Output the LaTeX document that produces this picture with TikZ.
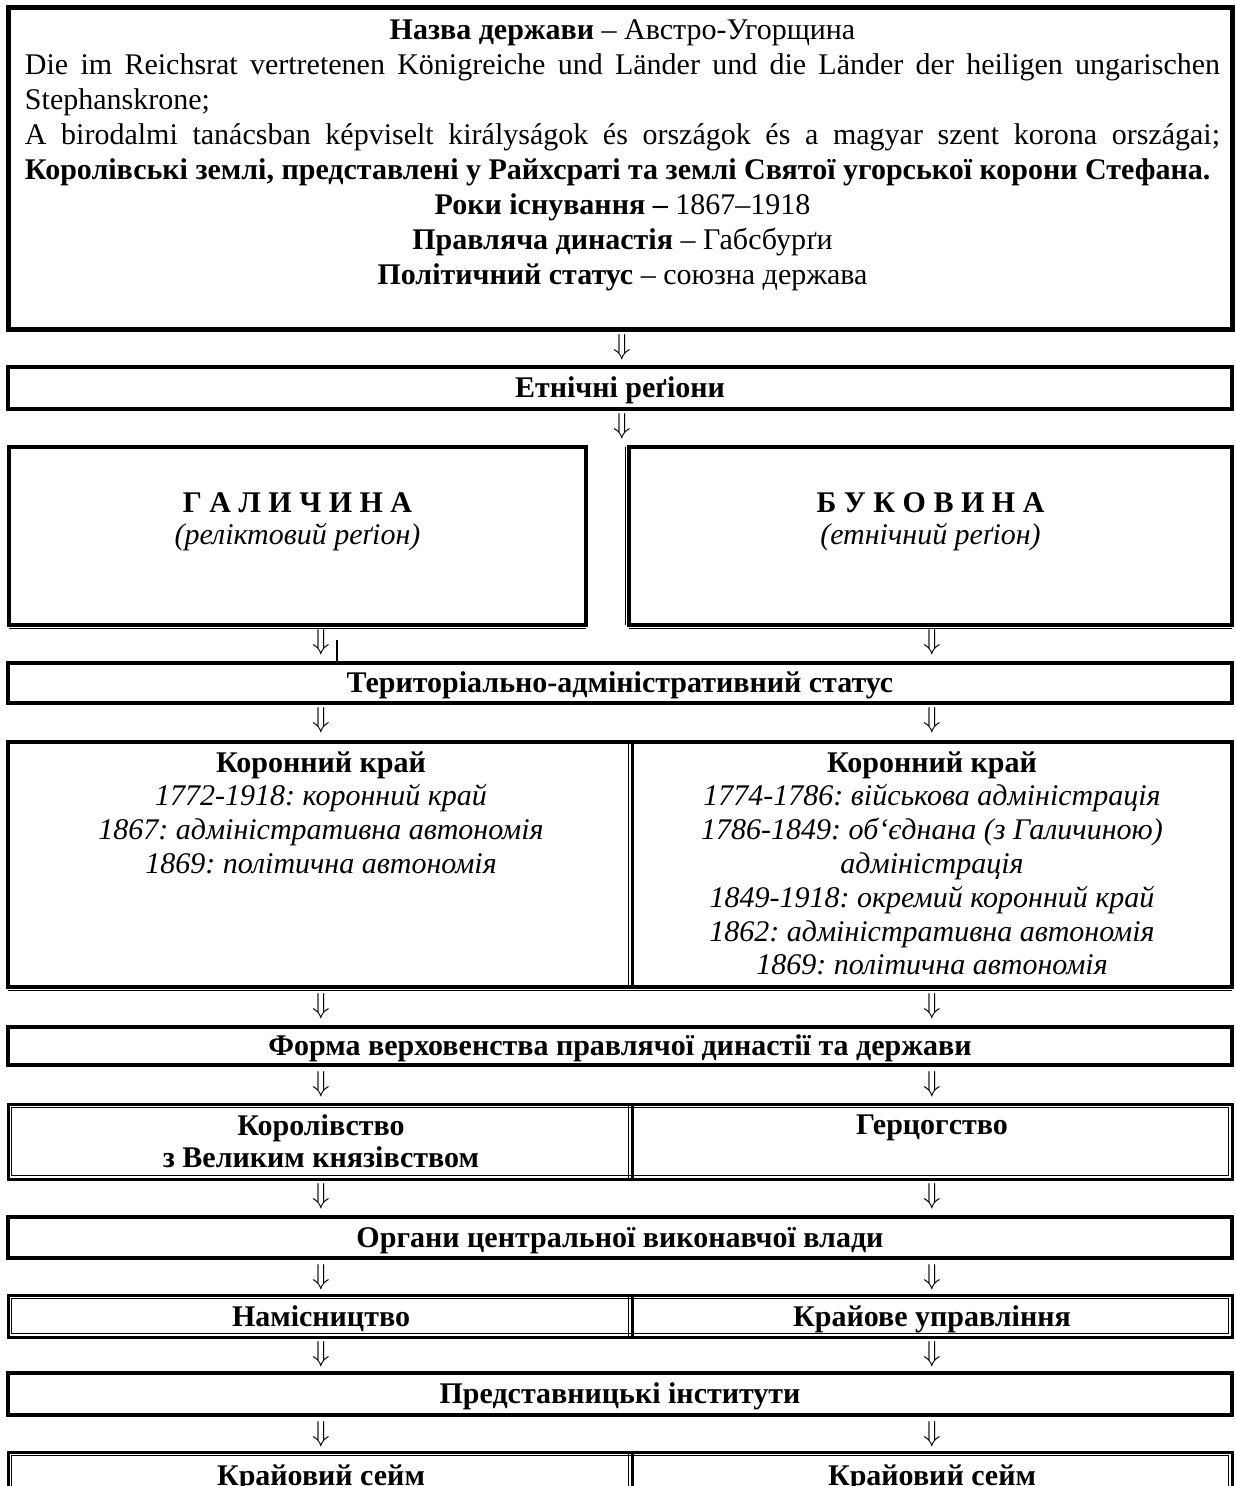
\documentclass[tikz,border=0pt]{standalone}
\usepackage{fontspec}
\setmainfont{Liberation Serif}

\begin{document}
\begin{tikzpicture}[x=0.5pt,y=-0.5pt,
        rowbox/.style={draw,line width=2pt,inner sep=0pt,outer sep=0pt,text height=9.9pt,text depth=0pt},
        dblbox/.style={draw,line width=1.5pt,inner sep=0pt,outer sep=0pt},
        thinrule/.style={line width=0.6pt},
        thickrule/.style={line width=1.5pt},
        headtxt/.style={font=\bfseries,inner sep=0pt,text height=9.9pt,text depth=0pt},
        celltxt/.style={align=center,inner sep=0pt,anchor=north,font=\fontsize{15}{16.9}\selectfont},
        darr/.style={inner sep=0pt,font=\fontsize{14}{14}\selectfont}]
    \fontsize{15}{17.5}\selectfont\frenchspacing
    \useasboundingbox (0,0) rectangle (1235,1486);
    \clip (0,0) rectangle (1235,1486);

    \node[rowbox,line width=2.5pt,minimum width=612pt,minimum height=161pt] (state) at (620,169) {};
    \node[anchor=north,text width=597.5pt,align=justify,inner sep=0pt] (statetxt) at (622.5,19) {%
        {\centering\textbf{Назва держави} – Австро-Угорщина\par}
        Die im Reichsrat vertretenen Königreiche und Länder und die Länder der heiligen ungarischen\linebreak Stephanskrone;\par
        A birodalmi tanácsban képviselt királyságok és országok és a magyar szent korona országai;\linebreak \textbf{Королівські землі, представлені у Райхсраті та землі Святої угорської корони Стефана.}\par
        {\centering\textbf{Роки існування –} 1867–1918\par
        \textbf{Правляча династія} – Габсбурґи\par
        \textbf{Політичний статус} – союзна держава\par}};

    \node[darr] (a1) at (622,347) {$\Downarrow$};
    \node[rowbox,minimum width=612pt,minimum height=21pt] (ethnic) at (620,388) {\textbf{Етнічні реґіони}};
    \node[darr] (a2) at (622,426) {$\Downarrow$};

    \node[rowbox,minimum width=288.5pt,minimum height=89pt] (gal) at (297.5,536) {};
    \node[rowbox,minimum width=301.5pt,minimum height=89pt] (buk) at (930.5,536) {};
    \draw[thinrule] ([yshift=-1.75pt]gal.south west) -- ([yshift=-1.75pt]gal.south east);
    \draw[thinrule] ([yshift=-1.75pt]buk.south west) -- ([yshift=-1.75pt]buk.south east);
    \draw[thinrule] ([xshift=-1.75pt]buk.north west) -- ([xshift=-1.75pt]buk.south west);
    \node[headtxt] (galname) at (297.5,503) {Г А Л И Ч И Н А};
    \node[inner sep=0pt,font=\itshape] (galnote) at (297.5,537) {(реліктовий реґіон)};
    \node[headtxt] (bukname) at (930.5,503) {Б У К О В И Н А};
    \node[inner sep=0pt,font=\itshape] (buknote) at (930.5,537) {(етнічний реґіон)};

    \node[darr] (a3) at (321,642) {$\Downarrow$};
    \node[darr] (a4) at (932,642) {$\Downarrow$};
    \node[rowbox,minimum width=612pt,minimum height=20pt] (tas) at (620,683) {\textbf{Територіально-адміністративний статус}};
    \coordinate (tick) at (337,640);
    \draw[line width=1pt] (tick) -- (tick |- tas.north);

    \node[darr] (a5) at (321,720) {$\Downarrow$};
    \node[darr] (a6) at (932,720) {$\Downarrow$};
    \node[rowbox,minimum width=612pt,minimum height=122.5pt] (kr) at (620,864.5) {};
    \draw[thinrule] ([xshift=4.25pt]kr.north) -- ([xshift=4.25pt]kr.south);
    \draw[thickrule] ([xshift=6.25pt]kr.north) -- ([xshift=6.25pt]kr.south);
    \draw[thinrule] ([yshift=-1.75pt]kr.south west) -- ([yshift=-1.75pt]kr.south east);
    \node[celltxt] (krgal) at (321,751) {\textbf{Коронний край}\\ \textit{1772-1918: коронний край}\\
        \textit{1867: адміністративна автономія}\\ \textit{1869: політична автономія}};
    \node[celltxt] (krbuk) at (932,751) {\textbf{Коронний край}\\ \textit{1774-1786: військова адміністрація}\\
        \textit{1786-1849: об‘єднана (з Галичиною)}\\ \textit{адміністрація}\\
        \textit{1849-1918: окремий коронний край}\\ \textit{1862: адміністративна автономія}\\
        \textit{1869: політична автономія}};

    \node[darr] (a7) at (321,1006) {$\Downarrow$};
    \node[darr] (a8) at (932,1006) {$\Downarrow$};
    \node[rowbox,minimum width=612pt,minimum height=19pt] (forma) at (620,1045.5) {\textbf{Форма верховенства правлячої династії та держави}};
    \node[darr] (a9) at (321,1084) {$\Downarrow$};
    \node[darr] (a10) at (932,1084) {$\Downarrow$};

    \node[dblbox,minimum width=612pt,minimum height=37.5pt] (kor) at (620,1141.5) {};
    \draw[thinrule] ([shift={(1.75pt,-1.75pt)}]kor.north west) rectangle ([shift={(-1.75pt,1.75pt)}]kor.south east);
    \draw[thinrule] ([xshift=4.25pt]kor.north) -- ([xshift=4.25pt]kor.south);
    \draw[thickrule] ([xshift=6.25pt]kor.north) -- ([xshift=6.25pt]kor.south);
    \node[celltxt,font=\fontsize{15}{16.3}\selectfont\bfseries] (korgal) at (321,1114) {Королівство\\з Великим князівством};
    \node[celltxt,font=\bfseries] (korbuk) at (932,1114) {Герцогство};

    \node[darr] (a11) at (321,1196) {$\Downarrow$};
    \node[darr] (a12) at (932,1196) {$\Downarrow$};
    \node[rowbox,minimum width=612pt,minimum height=20.5pt] (organy) at (620,1237.5) {\textbf{Органи центральної виконавчої влади}};
    \node[darr] (a13) at (321,1277) {$\Downarrow$};
    \node[darr] (a14) at (932,1277) {$\Downarrow$};

    \node[dblbox,minimum width=612pt,minimum height=21pt] (namis) at (620,1316) {};
    \draw[thinrule] ([shift={(1.75pt,-1.75pt)}]namis.north west) rectangle ([shift={(-1.75pt,1.75pt)}]namis.south east);
    \draw[thinrule] ([xshift=4.25pt]namis.north) -- ([xshift=4.25pt]namis.south);
    \draw[thickrule] ([xshift=6.25pt]namis.north) -- ([xshift=6.25pt]namis.south);
    \node[headtxt] (namisgal) at (321,1317) {Намісництво};
    \node[headtxt] (namisbuk) at (932,1317) {Крайове управління};

    \node[darr] (a15) at (321,1354) {$\Downarrow$};
    \node[darr] (a16) at (932,1354) {$\Downarrow$};
    \node[rowbox,minimum width=612pt,minimum height=21pt] (predst) at (620,1394) {\textbf{Представницькі інститути}};
    \node[darr] (a17) at (321,1434) {$\Downarrow$};
    \node[darr] (a18) at (932,1434) {$\Downarrow$};

    \node[dblbox,minimum width=612pt,minimum height=48pt] (seim) at (620,1500) {};
    \draw[thinrule] ([shift={(1.75pt,-1.75pt)}]seim.north west) rectangle ([shift={(-1.75pt,1.75pt)}]seim.south east);
    \draw[thinrule] ([xshift=4.25pt]seim.north) -- ([xshift=4.25pt]seim.south);
    \draw[thickrule] ([xshift=6.25pt]seim.north) -- ([xshift=6.25pt]seim.south);
    \node[headtxt,anchor=base] (seimgal) at (321,1485) {Крайовий сейм};
    \node[headtxt,anchor=base] (seimbuk) at (932,1485) {Крайовий сейм};
\end{tikzpicture}
\end{document}
